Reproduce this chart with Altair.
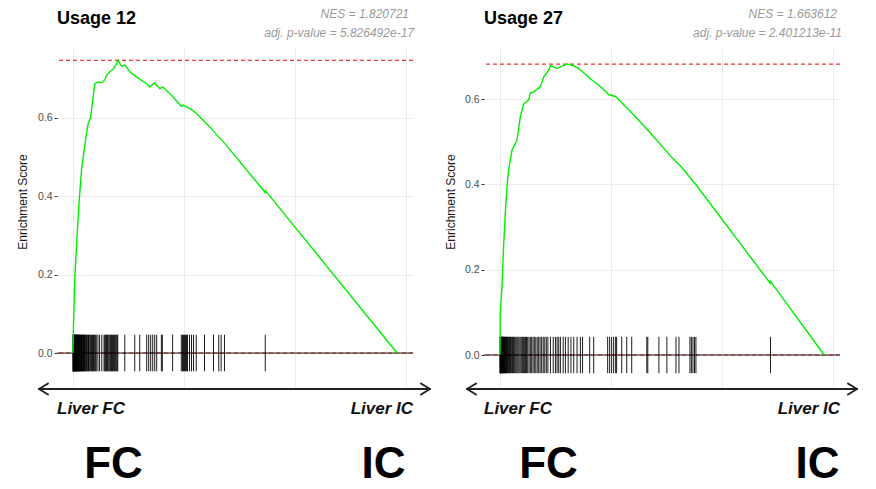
import altair as alt
import pandas as pd

# ---------------- data ----------------
# Usage 12 running enrichment score
u12_rank = [0, 27, 180, 386, 539, 782, 925, 1168, 1375, 1590, 1824, 1977, 2273, 2579,
            2875, 3028, 3324, 3621, 3864, 4070, 4376, 4672, 5121, 5723, 6622, 6918,
            7368, 7817, 8114, 9012, 9767, 9911, 10665, 11115, 12309, 13810, 17341,
            17350, 29228]
u12_es = [0.0, 0.05, 0.20, 0.305, 0.38, 0.47, 0.50, 0.55, 0.585, 0.60, 0.655, 0.687,
          0.691, 0.689, 0.696, 0.708, 0.717, 0.723, 0.734, 0.746, 0.731, 0.734, 0.717,
          0.704, 0.687, 0.678, 0.689, 0.674, 0.678, 0.653, 0.629, 0.632, 0.621, 0.611,
          0.577, 0.530, 0.409, 0.414, 0.0]
u12_hits = [5, 18, 30, 45, 60, 72, 90, 105, 120, 140, 155, 170, 190, 210, 230, 250, 275,
            300, 320, 345, 370, 395, 420, 450, 480, 510, 540, 575, 610, 650, 690, 730,
            770, 810, 850, 900, 950, 990, 1040, 1090, 1150, 1210, 1260, 1330, 1400, 1450,
            1530, 1600, 1680, 1760, 1850, 1930, 2020, 2100, 2250, 2400, 2600, 2800, 2870,
            2950, 3020, 3100, 3170, 3250, 3330, 3400, 3480, 3560, 3650, 3740, 3820, 3900,
            3980, 4040, 4670, 5570, 6020, 6650, 6830, 7010, 7190, 7370, 7550, 7970, 8060,
            8985, 9767, 9880, 9970, 10060, 10150, 10240, 10330, 10510, 10690, 10870,
            11115, 11860, 12670, 13145, 13360, 13660, 17340]
u12_max = 0.746
u12_nes = "NES = 1.820721"
u12_p = "adj. p-value = 5.826492e-17"

# Usage 27 running enrichment score
u27_rank = [0, 18, 27, 181, 326, 480, 633, 778, 932, 1086, 1539, 1837, 2136, 2588, 2742,
            3041, 3647, 3946, 4398, 4552, 5159, 6064, 6661, 7267, 8172, 9077, 9828,
            10435, 11494, 11792, 13304, 15566, 16317, 17675, 24372, 24380, 29232]
u27_es = [0.0, 0.066, 0.098, 0.160, 0.254, 0.332, 0.395, 0.434, 0.457, 0.481, 0.504,
          0.559, 0.588, 0.598, 0.614, 0.617, 0.629, 0.652, 0.668, 0.678, 0.672, 0.682,
          0.678, 0.668, 0.647, 0.629, 0.610, 0.606, 0.578, 0.570, 0.528, 0.461, 0.442,
          0.399, 0.168, 0.173, 0.0]
u27_hits = [5, 20, 35, 50, 70, 90, 110, 130, 150, 175, 200, 225, 250, 280, 310, 340, 370,
            400, 440, 480, 520, 560, 600, 650, 700, 760, 820, 880, 940, 1000, 1070, 1140,
            1210, 1290, 1370, 1450, 1540, 1630, 1720, 1820, 1920, 2020, 2110, 2200, 2300,
            2400, 2500, 2620, 2740, 2860, 2980, 3100, 3230, 3360, 3490, 3620, 3760, 3900,
            4040, 4180, 4320, 4550, 4800, 5000, 5150, 5300, 5450, 5700, 5900, 6150, 6400,
            6650, 6950, 7250, 7450, 8090, 8450, 9710, 9890, 10070, 10250, 10430, 10520,
            10980, 11430, 11880, 13240, 13330, 14330, 15050, 15870, 16140, 17130, 17260,
            17400, 17540, 17670, 24390]
u27_max = 0.682
u27_nes = "NES = 1.663612"
u27_p = "adj. p-value = 2.401213e-11"

x_ticks = [0, 10000, 20000, 30000]
y_ticks = [0.0, 0.2, 0.4, 0.6]

FONT = "Liberation Sans"
W, H = 356, 340
ONE = pd.DataFrame({"k": [0]})


def txt(text, x, y, size, weight="normal", style="normal", color="black",
        align="left", angle=0):
    return alt.Chart(ONE).mark_text(
        font=FONT, fontSize=size, fontWeight=weight, fontStyle=style, color=color,
        align=align, baseline="alphabetic", angle=angle
    ).encode(x=alt.value(x), y=alt.value(y), text=alt.value(text))


def seg(x1, y1, x2, y2):
    return alt.Chart(ONE).mark_rule(color="#222222", strokeWidth=2, strokeCap="round").encode(
        x=alt.value(x1), x2=alt.value(x2), y=alt.value(y1), y2=alt.value(y2))


def panel(title, nes, pval, rank, es, hits, es_max, ydom, ytx, nes_x, fc_x, ic_x,
          ar_l, ar_r):
    curve = pd.DataFrame({"rank": rank, "es": es})
    hit_df = pd.DataFrame({"rank": hits})
    half = es_max / 16.0

    xenc = alt.X("rank:Q",
                 scale=alt.Scale(domain=[-1440, 30660], nice=False, zero=False),
                 axis=alt.Axis(values=x_ticks, labels=False, ticks=False, domain=False,
                               grid=True, title=None))
    yscale = alt.Scale(domain=ydom, nice=False, zero=False)
    yenc = alt.Y("es:Q", scale=yscale,
                 axis=alt.Axis(values=y_ticks, format=".1f", domain=False, grid=True,
                               title=None))

    line = alt.Chart(curve).mark_line(color="#00ee00", strokeWidth=1.4).encode(
        x=xenc, y=yenc)
    ticks = alt.Chart(hit_df).mark_rule(color="black", strokeWidth=0.9).encode(
        x=xenc, y=alt.datum(-half), y2=alt.datum(half))
    red0 = alt.Chart(ONE).mark_rule(color="#e53935", strokeWidth=1,
                                    strokeDash=[4, 3]).encode(y=alt.datum(0))
    redmax = alt.Chart(ONE).mark_rule(color="#e53935", strokeWidth=1.2,
                                      strokeDash=[4, 3]).encode(y=alt.datum(es_max))
    black0 = alt.Chart(ONE).mark_rule(color="#2a1414", strokeWidth=1).encode(
        y=alt.datum(0))

    ay = 342
    layers = [
        line.mark_line(opacity=0),  # carries axes
        red0, black0, ticks, redmax, line,
        txt(title, 0, -23, 18, weight="bold"),
        txt(nes, nes_x, -29, 12, style="italic", color="#9a9a9a", align="right"),
        txt(pval, nes_x + 5, -10, 12, style="italic", color="#9a9a9a", align="right"),
        txt("Enrichment Score", ytx, 155, 12, color="#1a1a1a", align="center",
            angle=270),
        seg(ar_l, ay, ar_r, ay),
        seg(ar_l, ay, ar_l + 9, ay - 5.5),
        seg(ar_l, ay, ar_l + 9, ay + 5.5),
        seg(ar_r, ay, ar_r - 9, ay - 5.5),
        seg(ar_r, ay, ar_r - 9, ay + 5.5),
        txt("Liver FC", 0, 367, 17, weight="bold", style="italic", color="#111111"),
        txt("Liver IC", W, 367, 17, weight="bold", style="italic", color="#111111",
            align="right"),
        txt("FC", fc_x, 431, 44, weight="bold", align="center"),
        txt("IC", ic_x, 431, 44, weight="bold", align="center"),
    ]
    return alt.layer(*layers).properties(width=W, height=H)


p1 = panel("Usage 12", u12_nes, u12_p, u12_rank, u12_es, u12_hits, u12_max,
           [-0.0866, 0.780], -30, 352, 56.5, 326.5, -18, 373)
p2 = panel("Usage 27", u27_nes, u27_p, u27_rank, u27_es, u27_hits, u27_max,
           [-0.075, 0.722], -29, 353, 64.5, 333.5, -17, 373)

chart = alt.hconcat(p1, p2, spacing=14).properties(
    padding={"left": 17, "top": 8, "right": 5, "bottom": 0}
).configure_view(stroke=None).configure_axis(
    gridColor="#ebebeb", gridWidth=1, labelFont=FONT, labelColor="#4d4d4d",
    labelFontSize=10.5, tickColor="#333333", tickSize=3, labelPadding=2
)

chart.save("out.html", embed_options={"renderer": "svg", "actions": False})
